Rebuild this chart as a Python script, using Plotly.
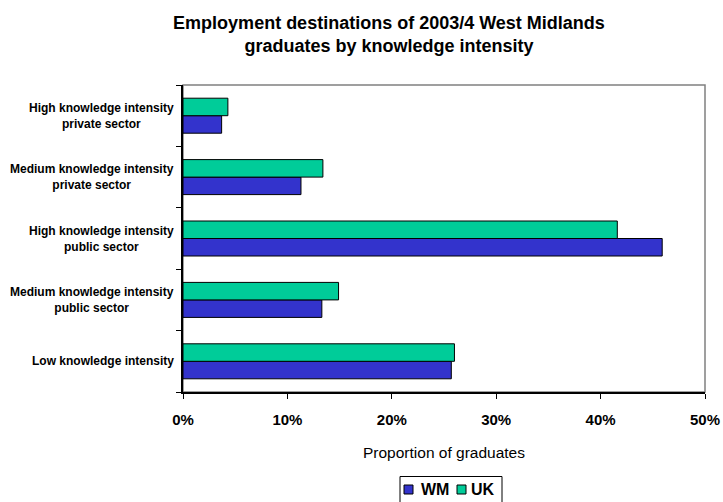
import plotly.graph_objects as go

# Categories listed bottom-to-top as drawn
categories = [
    "Low knowledge intensity",
    "Medium knowledge intensity<br>public sector",
    "High knowledge intensity<br>public sector",
    "Medium knowledge intensity<br>private sector",
    "High knowledge intensity<br>private sector",
]
wm_values = [25.7, 13.3, 45.9, 11.3, 3.7]
uk_values = [26.0, 14.9, 41.6, 13.4, 4.3]
x_ticks = [0, 10, 20, 30, 40, 50]
x_tick_labels = ["0%", "10%", "20%", "30%", "40%", "50%"]
series_names = ["WM", "UK"]
series_colors = ["#3333CC", "#00CC99"]

FONT = "Liberation Sans, Arial, sans-serif"
W, H = 723, 502
ML, MR, MT, MB = 183, 18, 85, 110
PW, PH = W - ML - MR, H - MT - MB


def px_x(px):
    return (px - ML) / PW


def px_y(py):
    return (H - MB - py) / PH


fig = go.Figure()
for name, vals, col in zip(series_names, [wm_values, uk_values], series_colors):
    fig.add_trace(go.Bar(
        y=categories, x=vals, name=name, orientation="h",
        marker=dict(color=col, line=dict(color="#000000", width=1)),
    ))

annotations = []
for c in categories:
    annotations.append(dict(
        x=0, xref="paper", y=c, yref="y", xanchor="right", yanchor="middle",
        xshift=-7, text="<b>%s</b>" % c, showarrow=False, align="center",
        font=dict(family=FONT, size=12, color="#000000"),
    ))

# Compact boxed legend (as in the original chart)
shapes = [dict(type="rect", xref="paper", yref="paper", x0=0, x1=1, y0=0, y1=1,
               line=dict(color="#808080", width=1.5), layer="below")]
shapes.append(dict(type="rect", xref="paper", yref="paper",
                   x0=px_x(400), x1=px_x(502), y0=px_y(506), y1=px_y(476.5),
                   line=dict(color="#000000", width=1), fillcolor="#FFFFFF"))
legend_marker_x = [404, 457]
legend_text_x = [420, 470]
for name, col, mx, tx in zip(series_names, series_colors, legend_marker_x, legend_text_x):
    shapes.append(dict(type="rect", xref="paper", yref="paper",
                       x0=px_x(mx), x1=px_x(mx + 9), y0=px_y(494), y1=px_y(485),
                       line=dict(color="#000000", width=1), fillcolor=col))
    annotations.append(dict(
        x=px_x(tx), xref="paper", y=px_y(489.5), yref="paper",
        xanchor="left", yanchor="middle", text="<b>%s</b>" % name,
        showarrow=False, font=dict(family=FONT, size=16, color="#000000"),
        xshift=-1,
    ))

fig.update_layout(
    width=W, height=H,
    margin=dict(l=ML, r=MR, t=MT, b=MB, autoexpand=False),
    paper_bgcolor="#FFFFFF", plot_bgcolor="#FFFFFF",
    font=dict(family=FONT, color="#000000"),
    title=dict(
        text="<b>Employment destinations of 2003/4 West Midlands<br>graduates by knowledge intensity</b>",
        x=389 / W, xanchor="center", xref="container",
        y=(H - 29) / H, yanchor="middle", yref="container",
        font=dict(family=FONT, size=18, color="#000000"),
    ),
    barmode="group", bargap=0.43, bargroupgap=0,
    xaxis=dict(
        range=[0, 50], tickvals=x_ticks, ticktext=x_tick_labels,
        showgrid=False, zeroline=False,
        showline=True, linecolor="#000000", linewidth=1.5,
        ticks="outside", ticklen=5, tickcolor="#000000", tickwidth=1,
        tickfont=dict(family=FONT, size=15, color="#000000", weight="bold"),
        ticklabelstandoff=8,
        title=dict(text="Proportion of graduates", standoff=20,
                   font=dict(family=FONT, size=15.5, color="#000000")),
        fixedrange=True, automargin=False,
    ),
    yaxis=dict(
        showgrid=False, zeroline=False, showticklabels=False,
        showline=True, linecolor="#000000", linewidth=1.5,
        ticks="outside", ticklen=5, tickcolor="#000000", tickwidth=1,
        tickson="boundaries",
        fixedrange=True, automargin=False,
    ),
    showlegend=False,
    annotations=annotations,
    shapes=shapes,
)

fig.write_html("out.html")
